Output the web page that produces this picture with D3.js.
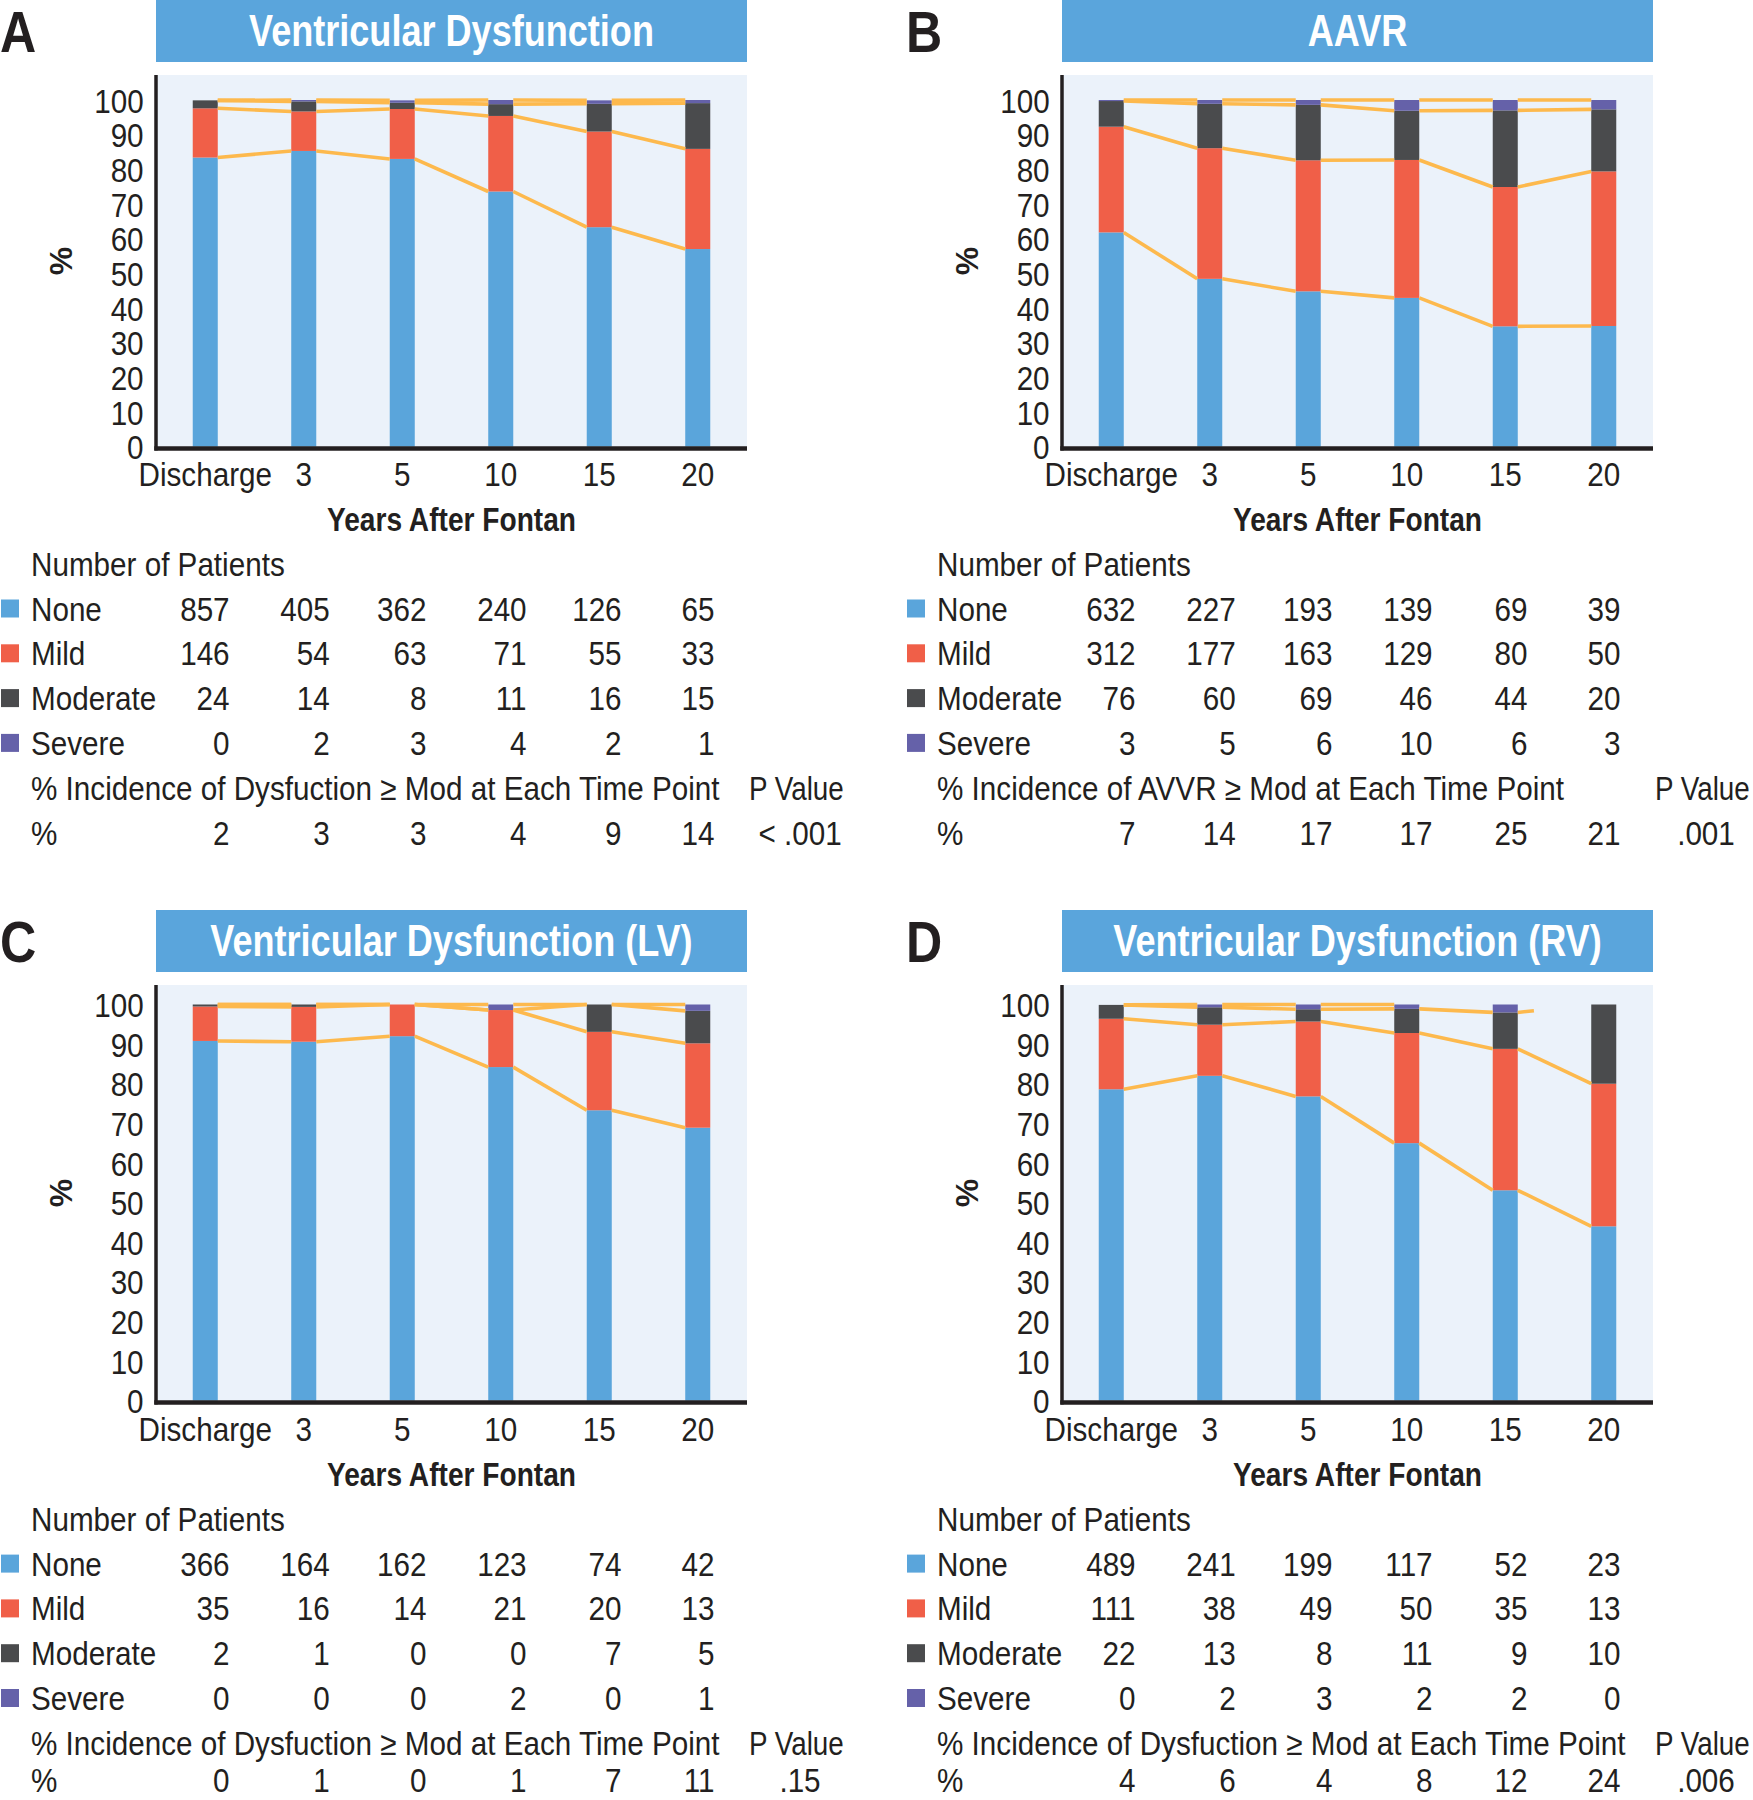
<!DOCTYPE html>
<html><head><meta charset="utf-8">
<script src="https://cdn.jsdelivr.net/npm/d3@7"></script>
<style>
html,body{margin:0;padding:0;background:#fff;}
svg{display:block;}
text{font-family:"Liberation Sans", Arial, sans-serif; fill:#231F20;}
</style></head><body>
<svg id="chart" width="1753" height="1800"></svg>
<script>
// ---------- data ----------
const categories = ["Discharge", "3", "5", "10", "15", "20"];
const severities = ["None", "Mild", "Moderate", "Severe"];
const yTicks = [0, 10, 20, 30, 40, 50, 60, 70, 80, 90, 100];
const panelLetters = ["A", "B", "C", "D"];
const panelTitles = ["Ventricular Dysfunction", "AAVR", "Ventricular Dysfunction (LV)", "Ventricular Dysfunction (RV)"];
const xAxisTitle = "Years After Fontan";
const yAxisTitle = "%";
const tableHeader = "Number of Patients";

// Panel A
const countsA = [[857, 405, 362, 240, 126, 65], [146, 54, 63, 71, 55, 33], [24, 14, 8, 11, 16, 15], [0, 2, 3, 4, 2, 1]];
const pctA = [[83.4, 85.3, 83.0, 73.6, 63.3, 57.0], [14.2, 11.4, 14.4, 21.8, 27.6, 28.9], [2.3, 2.9, 1.8, 3.4, 8.0, 13.2], [0.0, 0.4, 0.7, 1.2, 1.0, 0.9]];
const incidenceA = [2, 3, 3, 4, 9, 14];
const incidenceLabelA = "% Incidence of Dysfuction ≥ Mod at Each Time Point";
const pValueA = "< .001";

// Panel B
const countsB = [[632, 227, 193, 139, 69, 39], [312, 177, 163, 129, 80, 50], [76, 60, 69, 46, 44, 20], [3, 5, 6, 10, 6, 3]];
const pctB = [[61.8, 48.4, 44.8, 42.9, 34.7, 34.8], [30.5, 37.7, 37.8, 39.8, 40.2, 44.6], [7.4, 12.8, 16.0, 14.2, 22.1, 17.9], [0.3, 1.1, 1.4, 3.1, 3.0, 2.7]];
const incidenceB = [7, 14, 17, 17, 25, 21];
const incidenceLabelB = "% Incidence of AVVR ≥ Mod at Each Time Point";
const pValueB = ".001";

// Panel C
const countsC = [[366, 164, 162, 123, 74, 42], [35, 16, 14, 21, 20, 13], [2, 1, 0, 0, 7, 5], [0, 0, 0, 2, 0, 1]];
const pctC = [[90.8, 90.6, 92.0, 84.2, 73.3, 68.9], [8.7, 8.8, 8.0, 14.4, 19.8, 21.3], [0.5, 0.6, 0.0, 0.0, 6.9, 8.2], [0.0, 0.0, 0.0, 1.4, 0.0, 1.6]];
const incidenceC = [0, 1, 0, 1, 7, 11];
const incidenceLabelC = "% Incidence of Dysfuction ≥ Mod at Each Time Point";
const pValueC = ".15";

// Panel D
const countsD = [[489, 241, 199, 117, 52, 23], [111, 38, 49, 50, 35, 13], [22, 13, 8, 11, 9, 10], [0, 2, 3, 2, 2, 0]];
const pctD = [[78.6, 82.0, 76.8, 65.0, 53.1, 44.0], [17.8, 12.9, 18.9, 27.8, 35.7, 36.0], [3.5, 4.4, 3.1, 6.1, 9.2, 20.0], [0.0, 0.7, 1.2, 1.1, 2.0, 0.0]];
const incidenceD = [4, 6, 4, 8, 12, 24];
const incidenceLabelD = "% Incidence of Dysfuction ≥ Mod at Each Time Point";
const pValueD = ".006";
// drawn fraction of each series-line segment (layer x gap); D has gaps as in the original
const seriesLinesD = [[1, 1, 1, 1, 1], [1, 1, 1, 1, 1], [1, 1, 1, 1, 0.22], [1, 1, 1, 0, 0]];

// ---------- styling / layout ----------
const colors = ["#5AA5DB", "#F05F48", "#4A4B4D", "#6561A9"];
const lineColor = "#FDB94D";
const titleBoxColor = "#5AA5DC";
const plotBg = "#EBF2FA";
const SX = 0.885;    // horizontal condensing of body text
const FS = 33.5;     // body font size
const CAP = 12;      // half cap height -> baseline offset

const rows = [
  {titleTop: 0,   bgTop: 75,  y0: 446.6,  y100: 100,    tickY: 474,  xTitleY: 519,  pctY: 261,  nopY: 563.7},
  {titleTop: 910, bgTop: 985, y0: 1400.6, y100: 1004.5, tickY: 1429, xTitleY: 1474, pctY: 1193, nopY: 1518.8}
];
const colOffsets = [0, 906];
const plotLeft = 156, plotRight = 747;
const tableColRight = [229.6, 329.7, 426.5, 526.6, 621.6, 714.5];
const rowStep = 44.8;
const lastRowMax = 1780;

const svg = d3.select("#chart");

function txt(g, x, y, s, o = {}) {
  const size = o.size || FS, sx = o.sx || SX;
  return g.append("text")
    .attr("transform", `translate(${x},${y})` + (o.rotate ? ` rotate(${o.rotate})` : "") + ` scale(${sx},1)`)
    .attr("text-anchor", o.anchor || "start")
    .style("font-size", size + "px")
    .style("font-weight", o.weight || "normal")
    .style("fill", o.fill || "#231F20")
    .text(s);
}

const panels = [
  {counts: countsA, pct: pctA, inc: incidenceA, incLabel: incidenceLabelA, p: pValueA, lines: null},
  {counts: countsB, pct: pctB, inc: incidenceB, incLabel: incidenceLabelB, p: pValueB, lines: null},
  {counts: countsC, pct: pctC, inc: incidenceC, incLabel: incidenceLabelC, p: pValueC, lines: null},
  {counts: countsD, pct: pctD, inc: incidenceD, incLabel: incidenceLabelD, p: pValueD, lines: seriesLinesD}
];

panels.forEach((P, pi) => {
  const R = rows[Math.floor(pi / 2)];
  const ox = colOffsets[pi % 2];
  const g = svg.append("g").attr("transform", `translate(${ox},0)`);

  // panel letter
  txt(g, 0, R.titleTop + 52, panelLetters[pi], {size: 57, weight: "bold", sx: 0.88});
  // title box
  g.append("rect").attr("x", plotLeft).attr("y", R.titleTop).attr("width", plotRight - plotLeft).attr("height", 62).attr("fill", titleBoxColor);
  txt(g, (plotLeft + plotRight) / 2, R.titleTop + 46, panelTitles[pi], {size: 44, weight: "bold", sx: 0.82, anchor: "middle", fill: "#fff"});

  // scales
  const x = d3.scaleBand().domain(categories).range([plotLeft, plotRight]).paddingInner(0.746).paddingOuter(0.373);
  const y = d3.scaleLinear().domain([0, 100]).range([R.y0, R.y100]);
  const bw = x.bandwidth();

  // plot background
  g.append("rect").attr("x", plotLeft).attr("y", R.bgTop).attr("width", plotRight - plotLeft).attr("height", R.y0 - R.bgTop).attr("fill", plotBg);

  // stacked data
  const table = categories.map((c, i) => {
    const o = {cat: c};
    severities.forEach((s, k) => o[s] = P.pct[k][i]);
    return o;
  });
  const stacked = d3.stack().keys(severities)(table);

  stacked.forEach((layer, k) => {
    g.append("g").selectAll("rect").data(layer).join("rect")
      .attr("x", d => x(d.data.cat))
      .attr("y", d => y(d[1]))
      .attr("width", bw)
      .attr("height", d => Math.max(0, y(d[0]) - y(d[1])))
      .attr("fill", colors[k]);
  });

  // series lines
  const lg = g.append("g");
  stacked.forEach((layer, k) => {
    for (let i = 0; i < layer.length - 1; i++) {
      const frac = P.lines ? P.lines[k][i] : 1;
      if (!frac) continue;
      const x1 = x(layer[i].data.cat) + bw, y1 = y(layer[i][1]);
      const x2 = x(layer[i + 1].data.cat), y2 = y(layer[i + 1][1]);
      lg.append("path")
        .attr("d", d3.line()([[x1, y1], [x1 + (x2 - x1) * frac, y1 + (y2 - y1) * frac]]))
        .attr("stroke", lineColor).attr("stroke-width", 3.6).attr("fill", "none");
    }
  });

  // axes
  const yAx = g.append("g").attr("transform", `translate(${plotLeft},0)`)
    .call(d3.axisLeft(y).tickValues(yTicks).tickSize(0).tickSizeOuter(0).tickPadding(14));
  yAx.select(".domain").remove();
  yAx.selectAll("text").attr("transform", `scale(${SX},1)`).attr("dy", "0.36em")
    .style("font-size", FS + "px").style("font-family", '"Liberation Sans", Arial, sans-serif').style("fill", "#231F20");

  const xAx = g.append("g").attr("transform", `translate(0,${R.y0})`)
    .call(d3.axisBottom(x).tickSize(0).tickSizeOuter(0));
  xAx.select(".domain").remove();
  xAx.selectAll("text").attr("y", R.tickY + CAP - R.y0).attr("dy", 0).attr("transform", `scale(${SX},1)`)
    .style("font-size", FS + "px").style("font-family", '"Liberation Sans", Arial, sans-serif').style("fill", "#231F20");

  g.append("line").attr("x1", plotLeft).attr("x2", plotLeft).attr("y1", R.bgTop).attr("y2", R.y0 + 4)
    .attr("stroke", "#231F20").attr("stroke-width", 3.5);
  g.append("line").attr("x1", plotLeft - 1.7).attr("x2", plotRight).attr("y1", R.y0 + 2).attr("y2", R.y0 + 2)
    .attr("stroke", "#231F20").attr("stroke-width", 4.5);

  // axis titles
  txt(g, (plotLeft + plotRight) / 2, R.xTitleY + CAP, xAxisTitle, {weight: "bold", sx: 0.84, anchor: "middle"});
  txt(g, 72, R.pctY, yAxisTitle, {weight: "bold", rotate: -90, anchor: "middle", sx: 1, size: 32});

  // table
  txt(g, 31, R.nopY + CAP, tableHeader);
  severities.forEach((s, r) => {
    const c = R.nopY + rowStep * (r + 1);
    g.append("rect").attr("x", 1).attr("y", c - 9).attr("width", 18).attr("height", 18).attr("fill", colors[r]);
    txt(g, 31, c + CAP, s);
    P.counts[r].forEach((v, i) => txt(g, tableColRight[i], c + CAP, String(v), {anchor: "end"}));
  });
  const c5 = R.nopY + rowStep * 5, c6 = Math.min(R.nopY + rowStep * 6, lastRowMax);
  txt(g, 31, c5 + CAP, P.incLabel);
  txt(g, 749, c5 + CAP, "P Value", {sx: 0.83});
  txt(g, 31, c6 + CAP, "%");
  P.inc.forEach((v, i) => txt(g, tableColRight[i], c6 + CAP, String(v), {anchor: "end"}));
  txt(g, 800, c6 + CAP, P.p, {anchor: "middle"});
});
</script>
</body></html>
